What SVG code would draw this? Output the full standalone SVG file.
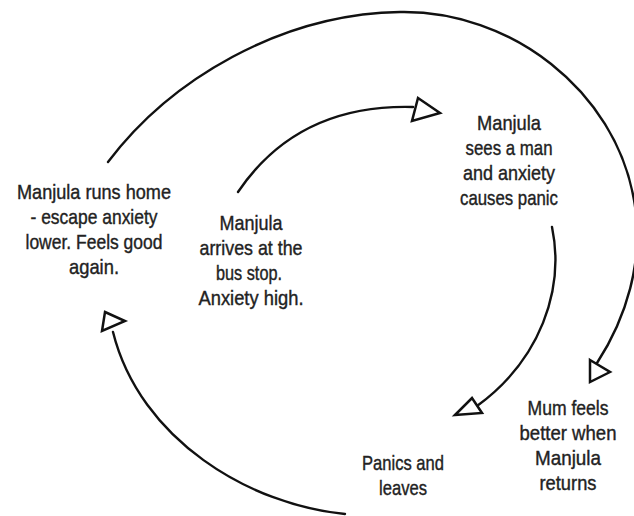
<svg xmlns="http://www.w3.org/2000/svg" width="634" height="516" viewBox="0 0 634 516">
<style>
  .lbl { font-family: "Liberation Sans", Arial, sans-serif; font-size: 21px; fill: #222; stroke: #222; stroke-width: 0.4; text-anchor: middle; }
  .wire { fill: none; stroke: #111; stroke-width: 2.4; stroke-linecap: round; }
  .head { fill: #fff; stroke: #111; stroke-width: 2.5; stroke-linejoin: miter; }
</style>
<rect width="634" height="516" fill="#fff"/>
<g id="connectors">
  <path class="wire" d="M108,162 C170,80 280,14 400,12 C510,10 615,90 634,200 C645,262 625,320 597,363"/>
  <polygon class="head" points="590,360 610,372 590,382"/>
  <path class="wire" d="M238,192 C280,130 340,105 413,107"/>
  <polygon class="head" points="418,98 440,113 412,121"/>
  <path class="wire" d="M552,227 C565,290 540,360 477,406"/>
  <polygon class="head" points="455,415 472,398 482,413"/>
  <path class="wire" d="M345,514 C250,505 140,440 113,332"/>
  <polygon class="head" points="105,312 125,321 102,331"/>
</g>
<g id="node-runs-home">
  <text class="lbl" x="94" y="199" textLength="154" lengthAdjust="spacingAndGlyphs">Manjula runs home</text>
  <text class="lbl" x="94" y="224" textLength="127" lengthAdjust="spacingAndGlyphs">- escape anxiety</text>
  <text class="lbl" x="94" y="249" textLength="137" lengthAdjust="spacingAndGlyphs">lower. Feels good</text>
  <text class="lbl" x="94" y="274" textLength="50" lengthAdjust="spacingAndGlyphs">again.</text>
</g>
<g id="node-arrives">
  <text class="lbl" x="251" y="230" textLength="63" lengthAdjust="spacingAndGlyphs">Manjula</text>
  <text class="lbl" x="251" y="255" textLength="103" lengthAdjust="spacingAndGlyphs">arrives at the</text>
  <text class="lbl" x="249" y="280" textLength="66" lengthAdjust="spacingAndGlyphs">bus stop.</text>
  <text class="lbl" x="251" y="305" textLength="105" lengthAdjust="spacingAndGlyphs">Anxiety high.</text>
</g>
<g id="node-sees-man">
  <text class="lbl" x="509" y="130" textLength="64" lengthAdjust="spacingAndGlyphs">Manjula</text>
  <text class="lbl" x="509" y="155" textLength="87" lengthAdjust="spacingAndGlyphs">sees a man</text>
  <text class="lbl" x="509" y="180" textLength="92" lengthAdjust="spacingAndGlyphs">and anxiety</text>
  <text class="lbl" x="509" y="205" textLength="98" lengthAdjust="spacingAndGlyphs">causes panic</text>
</g>
<g id="node-panics">
  <text class="lbl" x="403" y="470" textLength="82" lengthAdjust="spacingAndGlyphs">Panics and</text>
  <text class="lbl" x="403" y="495" textLength="48" lengthAdjust="spacingAndGlyphs">leaves</text>
</g>
<g id="node-mum">
  <text class="lbl" x="568" y="415" textLength="81" lengthAdjust="spacingAndGlyphs">Mum feels</text>
  <text class="lbl" x="568" y="440" textLength="97" lengthAdjust="spacingAndGlyphs">better when</text>
  <text class="lbl" x="568" y="465" textLength="66" lengthAdjust="spacingAndGlyphs">Manjula</text>
  <text class="lbl" x="568" y="490" textLength="57" lengthAdjust="spacingAndGlyphs">returns</text>
</g>
</svg>
